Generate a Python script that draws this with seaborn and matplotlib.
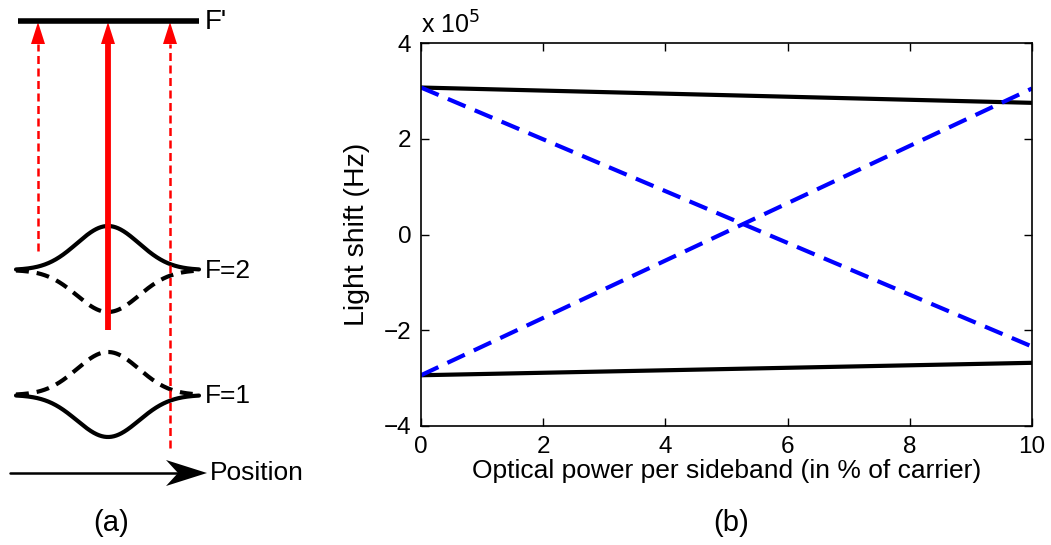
import numpy as np
import pandas as pd
import matplotlib
matplotlib.use("Agg")
import matplotlib.pyplot as plt
import seaborn as sns

# ---- (b) light shift of the two hyperfine levels vs sideband power ----
power_pct = [0, 10]
upper_solid = [3.07, 2.75]      # x 1e5 Hz
lower_solid = [-2.94, -2.68]
falling_dash = [3.07, -2.34]
rising_dash = [-2.94, 3.05]
curve_names = ["upper", "lower", "falling", "rising"]
curve_colors = {"upper": "black", "lower": "black", "falling": "#0000ff", "rising": "#0000ff"}
curve_dashes = {"upper": "", "lower": "", "falling": (4.6, 2.4), "rising": (4.6, 2.4)}
x_ticks = [0, 2, 4, 6, 8, 10]
y_ticks = [-4, -2, 0, 2, 4]

# ---- (a) level scheme ----
level_labels = ["F'", "F=2", "F=1"]
level_y = [21, 270, 395]
beam_x = [38, 108, 170]
beam_start_y = [251, 330, 448]

sns.set_theme(style="white")
plt.rcParams["font.family"] = ["Liberation Sans", "DejaVu Sans"]
plt.rcParams["axes.unicode_minus"] = True
for key in ["text.color", "axes.labelcolor", "xtick.color", "ytick.color"]:
    plt.rcParams[key] = "black"

fig = plt.figure(figsize=(10.51, 5.45), dpi=100)

# schematic drawn in pixel coordinates
ax0 = fig.add_axes([0, 0, 1, 1])
ax0.set_xlim(0, 1051)
ax0.set_ylim(545, 0)
ax0.axis("off")

red = "#ff0000"
# excited level
ax0.plot([18, 199], [level_y[0], level_y[0]], color="black", lw=4, solid_capstyle="butt")
ax0.text(205, level_y[0] + 1, level_labels[0], fontsize=20, va="center", ha="left")

# ground levels with position-dependent light shifts
xs = np.linspace(16, 199, 300)
g = np.exp(-((xs - 108) ** 2) / (2 * 31.0 ** 2))
bumps = [(level_y[1], -44, 42), (level_y[2], 42, -43)]
for (y0, solid_amp, dash_amp), lab in zip(bumps, level_labels[1:]):
    ax0.plot(xs, y0 + solid_amp * g, color="black", lw=3)
    ax0.plot(xs, y0 + dash_amp * g, color="black", lw=3, ls=(0, (3.1, 1.9)))
    ax0.text(205, y0 + 1, lab, fontsize=19, va="center", ha="left")

# laser carrier and sidebands
head_len, head_hw = 22, 7
for bx, by, solid in zip(beam_x, beam_start_y, [False, True, False]):
    tip = level_y[0] + 1
    if solid:
        ax0.plot([bx, bx], [by, tip + head_len], color=red, lw=4.2, solid_capstyle="butt")
    else:
        ax0.plot([bx, bx], [by, tip + head_len], color=red, lw=1.8, ls=(0, (3.2, 1.8)))
    ax0.fill([bx - head_hw, bx + head_hw, bx], [tip + head_len, tip + head_len, tip],
             color=red, lw=0)

# position axis
ax0.plot([10, 180], [473, 473], color="black", lw=1.8)
ax0.fill([207, 166, 178, 166], [473, 460, 473, 486], color="black", lw=0)
ax0.text(210, 473, "Position", fontsize=19, va="center", ha="left")
ax0.text(111, 523, "(a)", fontsize=21, va="center", ha="center")
ax0.text(731, 523, "(b)", fontsize=21, va="center", ha="center")

# ---- chart ----
rows = []
for name, vals in zip(curve_names, [upper_solid, lower_solid, falling_dash, rising_dash]):
    for p, v in zip(power_pct, vals):
        rows.append({"power": p, "shift": v, "curve": name})
df = pd.DataFrame(rows)

ax = fig.add_axes([421 / 1051, 1 - 426 / 545, (1032 - 421) / 1051, (426 - 43) / 545])
sns.lineplot(data=df, x="power", y="shift", hue="curve", style="curve",
             palette=curve_colors, dashes=curve_dashes, hue_order=curve_names,
             style_order=curve_names, estimator=None, lw=3, legend=False, ax=ax)
ax.set_xlim(0, 10)
ax.set_ylim(-4, 4)
ax.set_xticks(x_ticks)
ax.set_yticks(y_ticks)
ax.set_xticklabels([str(t) for t in x_ticks])
ax.set_yticklabels([str(t).replace("-", "\u2212") for t in y_ticks])
ax.tick_params(direction="in", length=6, width=1, color="black", labelcolor="black",
               labelsize=17.5, top=True, right=True, bottom=True, left=True)
ax.tick_params(axis="x", pad=7)
ax.tick_params(axis="y", pad=7)
for s in ax.spines.values():
    s.set_color("black")
    s.set_linewidth(1.2)
    s.set_visible(True)
ax.set_xlabel("Optical power per sideband (in % of carrier)", fontsize=19, labelpad=1)
ax.set_ylabel("Light shift (Hz)", fontsize=20.5, labelpad=10)
ax.text(0.0, 1.012, r"x 10$^5$", transform=ax.transAxes, fontsize=18, ha="left", va="bottom")

fig.savefig("out.png", dpi=100)
